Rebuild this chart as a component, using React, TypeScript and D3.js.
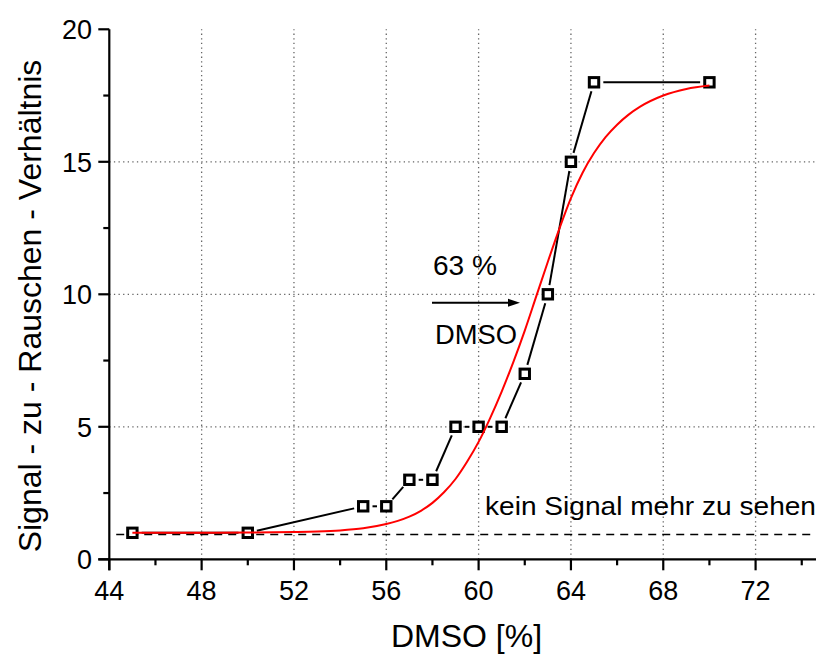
import React from "react";
import * as d3 from "d3";

// Measured signal-to-noise ratio versus DMSO concentration
const dmso = [45, 50, 55, 56, 57, 58, 59, 60, 61, 62, 63, 64, 65, 70];
const snr = [1, 1, 2, 2, 3, 3, 5, 5, 5, 7, 10, 15, 18, 18];

// Sigmoidal fit curve, sampled
const fitX = [45, 48, 50, 52, 53, 54, 55, 56, 56.5, 57, 57.5, 58, 58.5, 59, 59.5, 60, 60.5, 61, 61.5, 62, 62.5, 63, 63.5, 64, 64.5, 65, 65.5, 66, 66.5, 67, 68, 69, 70];
const fitY = [1.0, 1.0, 1.01, 1.03, 1.05, 1.09, 1.17, 1.33, 1.45, 1.61, 1.83, 2.13, 2.53, 3.03, 3.68, 4.43, 5.33, 6.33, 7.43, 8.63, 9.93, 11.23, 12.48, 13.63, 14.58, 15.33, 15.93, 16.4, 16.78, 17.08, 17.5, 17.75, 17.88];

// Detection threshold
const thresholdY = 0.94;
const thresholdStartX = 44.3;

const xMajorTicks = [44, 48, 52, 56, 60, 64, 68, 72];
const xMinorTicks = [46, 50, 54, 58, 62, 66, 70, 74];
const yMajorTicks = [0, 5, 10, 15, 20];
const yMinorTicks = [2.5, 7.5, 12.5, 17.5];
const xGrid = [48, 52, 56, 60, 64, 68, 72];
const yGrid = [5, 10, 15];

const xDomain = [44, 74.6];
const yDomain = [0, 20];

const FONT = "'Liberation Sans', Arial, Helvetica, sans-serif";

export default function App() {
  const W = 816;
  const H = 655;
  const x = d3.scaleLinear().domain(xDomain).range([109.3, 815.6]);
  const y = d3.scaleLinear().domain(yDomain).range([559.3, 29.3]);

  const x0 = x(xDomain[0]);
  const y0 = y(0);
  const yTop = y(20);

  const fitPts: [number, number][] = fitX.map((v, i) => [x(v), y(fitY[i])]);
  const fitPath = d3.line().curve(d3.curveMonotoneX)(fitPts) || "";

  // Connecting segments with a gap around each marker
  const gap = 9.3;
  const segs = [];
  for (let i = 0; i < dmso.length - 1; i++) {
    const ax = x(dmso[i]), ay = y(snr[i]);
    const bx = x(dmso[i + 1]), by = y(snr[i + 1]);
    const dx = bx - ax, dy = by - ay;
    const len = Math.hypot(dx, dy);
    if (len <= 2 * gap) continue;
    const ux = dx / len, uy = dy / len;
    segs.push(
      <line key={i} x1={ax + ux * gap} y1={ay + uy * gap} x2={bx - ux * gap} y2={by - uy * gap}
        stroke="#000" strokeWidth={2} />
    );
  }

  const arrowY = 302.7;
  const arrowX1 = 432;
  const arrowX2 = 520;

  return (
    <svg width={W} height={H} style={{ position: "absolute", left: 0, top: 0, background: "#fff" }}
      fontFamily={FONT}>
      <rect x={0} y={0} width={W} height={H} fill="#fff" />
      {/* grid */}
      {xGrid.map((v) => (
        <line key={"gx" + v} x1={x(v)} x2={x(v)} y1={y0} y2={yTop} stroke="#666" strokeWidth={1.3}
          strokeDasharray="1.3,3.3" />
      ))}
      {yGrid.map((v) => (
        <line key={"gy" + v} x1={x0} x2={W} y1={y(v)} y2={y(v)} stroke="#666" strokeWidth={1.3}
          strokeDasharray="1.3,3.3" />
      ))}

      {/* threshold line */}
      <line x1={x(thresholdStartX)} x2={W} y1={y(thresholdY)} y2={y(thresholdY)} stroke="#000"
        strokeWidth={1.5} strokeDasharray="8,6" />

      {/* axes */}
      <line x1={x0} x2={x0} y1={yTop} y2={y0 + 11} stroke="#000" strokeWidth={2.2} />
      <line x1={x0 - 11} x2={W} y1={y0} y2={y0} stroke="#000" strokeWidth={2.2} />
      {yMajorTicks.map((v) => (
        <g key={"ym" + v}>
          <line x1={x0 - 11} x2={x0} y1={y(v)} y2={y(v)} stroke="#000" strokeWidth={2.2} />
          <text x={92} y={y(v) + 10} textAnchor="end" fontSize={27}>{v}</text>
        </g>
      ))}
      {yMinorTicks.map((v) => (
        <line key={"yn" + v} x1={x0 - 6} x2={x0} y1={y(v)} y2={y(v)} stroke="#000" strokeWidth={2.2} />
      ))}
      {xMajorTicks.map((v) => (
        <g key={"xm" + v}>
          <line x1={x(v)} x2={x(v)} y1={y0} y2={y0 + 11} stroke="#000" strokeWidth={2.2} />
          <text x={x(v)} y={599.5} textAnchor="middle" fontSize={27}>{v}</text>
        </g>
      ))}
      {xMinorTicks.map((v) => (
        <line key={"xn" + v} x1={x(v)} x2={x(v)} y1={y0} y2={y0 + 6} stroke="#000" strokeWidth={2.2} />
      ))}

      {/* axis titles */}
      <text x={466.5} y={647} textAnchor="middle" fontSize={32}>DMSO [%]</text>
      <text transform="translate(41,306) rotate(-90)" textAnchor="middle" fontSize={32}>
        Signal - zu - Rauschen - Verhältnis
      </text>

      {/* data */}
      {segs}
      {dmso.map((v, i) => (
        <rect key={"m" + i} x={x(v) - 4.7} y={y(snr[i]) - 4.7} width={9.4} height={9.4} fill="#fff"
          stroke="#000" strokeWidth={3} />
      ))}
      <path d={fitPath} fill="none" stroke="#ff0000" strokeWidth={2} />

      {/* annotations */}
      <text x={433} y={275} fontSize={27} textLength={64} lengthAdjust="spacingAndGlyphs">63 %</text>
      <text x={435} y={344} fontSize={27} textLength={82} lengthAdjust="spacingAndGlyphs">DMSO</text>
      <line x1={arrowX1} x2={arrowX2 - 9} y1={arrowY} y2={arrowY} stroke="#000" strokeWidth={2} />
      <path d={`M${arrowX2},${arrowY} L${arrowX2 - 12},${arrowY - 4} L${arrowX2 - 12},${arrowY + 4} Z`} fill="#000" />
      <text x={485} y={515} fontSize={26} textLength={331} lengthAdjust="spacingAndGlyphs">kein Signal mehr zu sehen</text>
    </svg>
  );
}
